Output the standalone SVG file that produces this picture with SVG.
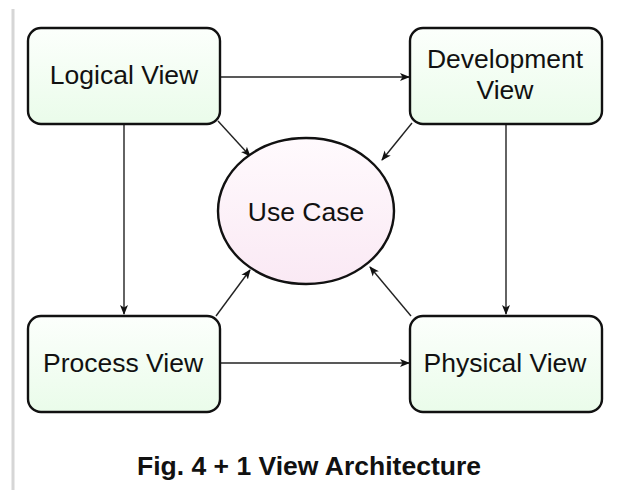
<svg xmlns="http://www.w3.org/2000/svg" width="623" height="490" viewBox="0 0 623 490">
<style>
.box{stroke:#111;stroke-width:2.4;fill:url(#g)}
.lbl{font-family:"Liberation Sans",Arial,sans-serif;font-size:26.5px;fill:#111;text-anchor:middle}
.c{stroke:#222;stroke-width:1.4;fill:none;marker-end:url(#a)}
</style>
<defs>
<linearGradient id="g" x1="0" y1="0" x2="0" y2="1"><stop offset="0" stop-color="#fcfffc"/><stop offset="1" stop-color="#eafcea"/></linearGradient>
<linearGradient id="p" x1="0" y1="0" x2="0" y2="1"><stop offset="0" stop-color="#fffafd"/><stop offset="1" stop-color="#fae9f4"/></linearGradient>
<marker id="a" viewBox="0 0 10 10" refX="9" refY="5" markerWidth="10" markerHeight="10" markerUnits="userSpaceOnUse" orient="auto"><path d="M0,1 L10,5 L0,9 L2.5,5 Z" fill="#111"/></marker>
</defs>
<rect width="623" height="490" fill="#fff"/>
<line x1="13" y1="9" x2="13" y2="490" stroke="#d6d6d6" stroke-width="3"/>
<g id="connectors">
<line class="c" x1="220" y1="77" x2="409" y2="77"/>
<line class="c" x1="218" y1="121" x2="250" y2="156"/>
<line class="c" x1="412" y1="123" x2="382" y2="160"/>
<line class="c" x1="124" y1="124" x2="124" y2="314"/>
<line class="c" x1="506" y1="124" x2="506" y2="314"/>
<line class="c" x1="216" y1="316" x2="250" y2="270"/>
<line class="c" x1="411" y1="316" x2="370" y2="267"/>
<line class="c" x1="220" y1="363" x2="409" y2="363"/>
</g>
<g id="logical"><rect class="box" x="28" y="28" width="192" height="96" rx="13"/><text class="lbl" x="124" y="84">Logical View</text></g>
<g id="development"><rect class="box" x="410" y="28" width="192" height="96" rx="13"/><text class="lbl" x="505" y="68">Development</text><text class="lbl" x="505" y="99">View</text></g>
<g id="process"><rect class="box" x="28" y="316" width="192" height="96" rx="13"/><text class="lbl" x="123" y="372">Process View</text></g>
<g id="physical"><rect class="box" x="410" y="316" width="192" height="96" rx="13"/><text class="lbl" x="505" y="372">Physical View</text></g>
<g id="usecase"><ellipse cx="306" cy="211" rx="88" ry="73" fill="url(#p)" stroke="#111" stroke-width="2.4"/><text class="lbl" x="306" y="221">Use Case</text></g>
<text x="309" y="475" font-family="Liberation Sans,Arial,sans-serif" font-size="26.5" font-weight="bold" text-anchor="middle" fill="#111">Fig. 4 + 1 View Architecture</text>
</svg>
